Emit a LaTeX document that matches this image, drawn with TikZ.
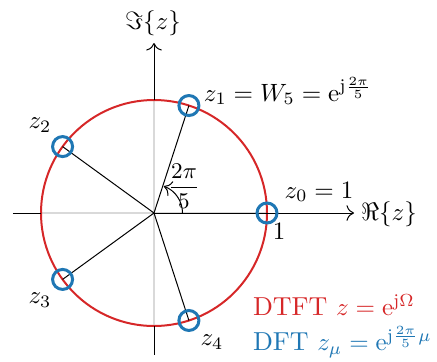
\documentclass[tikz,border=0pt]{standalone}
\usetikzlibrary{arrows.meta}
\definecolor{tabblue}{RGB}{31,119,180}
\definecolor{tabred}{RGB}{214,39,40}
\begin{document}
\begin{tikzpicture}[x=0.4pt,y=0.4pt,
  axis/.style={black,line width=0.4pt},
  grid/.style={gray!30,line width=0.6pt},
  ray/.style={black,line width=0.4pt},
  unit/.style={tabred,line width=0.8pt},
  marker/.style={circle,draw=tabblue,line width=1.2pt,minimum size=8pt,inner sep=0pt},
  lbl/.style={inner sep=1pt,font=\fontsize{10.4}{12}\selectfont}]
\useasboundingbox (-154,-148) rectangle (283,213);
\coordinate (O) at (0,0);
% grid lines inside the circle
\draw[grid] (-113,0) -- (113,0);
\draw[grid] (0,-113) -- (0,113);
% unit circle
\draw[unit] (O) circle[radius=113];
% points
\foreach \k in {0,...,4}{
  \coordinate (c\k) at ({72*\k}:113);
}
% outer axes
\coordinate (xl) at (-141,0);
\coordinate (xr) at (200,0);
\coordinate (yt) at (0,170);
\coordinate (yb) at (0,-142);
\coordinate (xli) at (-113,0);
\coordinate (yti) at (0,113);
\coordinate (ybi) at (0,-113);
\draw[axis] (xl) -- (xli);
\draw[axis,-{To[length=3pt]}] (c0) -- (xr);
\draw[axis,-{To[length=3pt]}] (yti) -- (yt);
\draw[axis] (ybi) -- (yb);
% rays
\foreach \k in {0,...,4}{
  \draw[ray] (O) -- (c\k);
}
% angle arc
\draw[ray,-{To[length=3pt]}] (28.5,0) arc[start angle=0,end angle=70,radius=28.5];
% markers
\foreach \k in {0,...,4}{
  \node[marker] (p\k) at (c\k) {};
}
% labels
\node[lbl,font=\fontsize{9.4}{11}\selectfont] (lang) at (30,27) {$\displaystyle\frac{2\pi}{5}$};
\node[lbl] (l1) at (134,122) {$z_1 = W_5 = \mathrm{e}^{\mathrm{j}\frac{2\pi}{5}}$};
\node[lbl] (l2) at (-114,88) {$z_2$};
\node[lbl] (l3) at (-114,-87) {$z_3$};
\node[lbl] (l4) at (58,-129) {$z_4$};
\node[lbl] (l0) at (165,21) {$z_0 = 1$};
\node[lbl] (lone) at (125,-18) {$1$};
\node[lbl] (lre) at (235,-1) {$\Re\{z\}$};
\node[lbl] (lim) at (-1,190) {$\Im\{z\}$};
\node[lbl,anchor=west,text=tabred] (ldtft) at (96,-92) {DTFT $z = \mathrm{e}^{\mathrm{j}\Omega}$};
\node[lbl,anchor=west,text=tabblue] (ldft) at (96,-129) {DFT $z_\mu = \mathrm{e}^{\mathrm{j}\frac{2\pi}{5}\mu}$};
\end{tikzpicture}
\end{document}
